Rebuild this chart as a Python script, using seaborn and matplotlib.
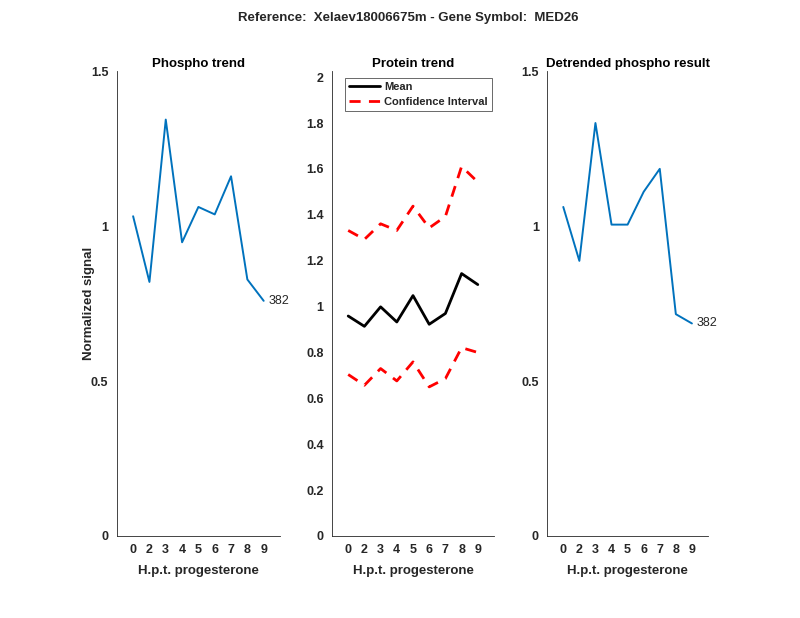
import matplotlib
matplotlib.use("Agg")
import matplotlib.pyplot as plt
import seaborn as sns
import pandas as pd

# time points (hours post progesterone) and their plotting positions
hpt_labels = ["0", "2", "3", "4", "5", "6", "7", "8", "9"]
positions = [1, 2, 3, 4, 5, 6, 7, 8, 9]

phospho = [1.032, 0.820, 1.344, 0.948, 1.062, 1.038, 1.161, 0.828, 0.759]
protein_mean = [0.959, 0.914, 0.999, 0.933, 1.048, 0.923, 0.970, 1.144, 1.096]
protein_upper = [1.332, 1.293, 1.361, 1.332, 1.438, 1.343, 1.393, 1.611, 1.543]
protein_lower = [0.704, 0.657, 0.730, 0.676, 0.759, 0.650, 0.686, 0.821, 0.800]
detrended = [1.062, 0.888, 1.333, 1.005, 1.005, 1.111, 1.185, 0.716, 0.686]

peptide_id = "382"
main_title = "Reference:  Xelaev18006675m - Gene Symbol:  MED26"

sns.set_style("white")
plt.rcParams["font.family"] = ["Liberation Sans", "DejaVu Sans"]

axis_col = "#262626"
blue = "#0072BD"

fig = plt.figure(figsize=(8, 6.18), dpi=100)
ax1 = fig.add_axes([0.146, 0.1327, 0.204, 0.752])
ax2 = fig.add_axes([0.415, 0.1327, 0.2025, 0.752])
ax3 = fig.add_axes([0.684, 0.1327, 0.201, 0.752])


def style_axis(ax, title, ylim, yticks, yticklabels):
    ax.set_xlim(0, 10)
    ax.set_ylim(*ylim)
    ax.set_xticks(positions)
    ax.set_xticklabels(hpt_labels)
    ax.set_yticks(yticks)
    ax.set_yticklabels(yticklabels)
    for side in ["top", "right"]:
        ax.spines[side].set_visible(False)
    for side in ["left", "bottom"]:
        ax.spines[side].set_color(axis_col)
        ax.spines[side].set_linewidth(0.6)
    ax.tick_params(direction="in", length=5, width=0.6, colors=axis_col,
                   labelsize=9, pad=6)
    for lab in ax.get_xticklabels() + ax.get_yticklabels():
        lab.set_fontweight("bold")
    ax.set_title(title, fontsize=9.5, fontweight="bold", color="black", pad=3)
    ax.set_xlabel("H.p.t. progesterone", fontsize=9.5, fontweight="bold",
                  color=axis_col, labelpad=6)
    ax.set_ylabel("")


df1 = pd.DataFrame({"pos": positions, "val": phospho})
sns.lineplot(data=df1, x="pos", y="val", ax=ax1, color=blue, linewidth=1.4)
ax1.text(positions[-1] + 0.3, phospho[-1], peptide_id, va="center", ha="left",
         fontsize=9)
style_axis(ax1, "Phospho trend", (0, 1.5), [0, 0.5, 1, 1.5],
           ["0", "0.5", "1", "1.5"])
ax1.set_ylabel("Normalized signal", fontsize=9.5, fontweight="bold",
               color=axis_col)
ax1.yaxis.set_label_coords(-0.135, 0.5)

df2 = pd.DataFrame({"pos": positions, "mean": protein_mean,
                    "upper": protein_upper, "lower": protein_lower})
sns.lineplot(data=df2, x="pos", y="mean", ax=ax2, color="black", linewidth=2,
             label="Mean")
sns.lineplot(data=df2, x="pos", y="upper", ax=ax2, color="red", linewidth=2,
             linestyle=(0, (4, 3)), label="Confidence Interval")
sns.lineplot(data=df2, x="pos", y="lower", ax=ax2, color="red", linewidth=2,
             linestyle=(0, (4, 3)))
style_axis(ax2, "Protein trend", (0, 2.026), [0, 0.2, 0.4, 0.6, 0.8, 1, 1.2, 1.4, 1.6, 1.8, 2],
           ["0", "0.2", "0.4", "0.6", "0.8", "1", "1.2", "1.4", "1.6", "1.8", "2"])
leg = ax2.legend(loc="upper left", bbox_to_anchor=(0.08, 0.985), frameon=True,
                 fancybox=False, prop={"weight": "bold", "size": 8},
                 handlelength=2.8, borderpad=0.35, labelspacing=0.45,
                 handletextpad=0.4, borderaxespad=0)
leg.get_frame().set_edgecolor(axis_col)
leg.get_frame().set_linewidth(0.6)

df3 = pd.DataFrame({"pos": positions, "val": detrended})
sns.lineplot(data=df3, x="pos", y="val", ax=ax3, color=blue, linewidth=1.4)
ax3.text(positions[-1] + 0.3, detrended[-1], peptide_id, va="center", ha="left",
         fontsize=9)
style_axis(ax3, "Detrended phospho result", (0, 1.5), [0, 0.5, 1, 1.5],
           ["0", "0.5", "1", "1.5"])

fig.suptitle(main_title, x=0.51, y=0.971, va="center", fontsize=9.5,
             fontweight="bold")

fig.savefig("out.png", dpi=100)
plt.close(fig)
